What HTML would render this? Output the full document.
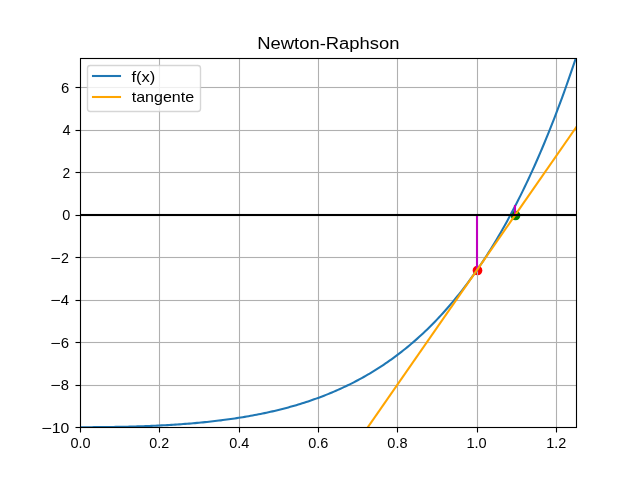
<!DOCTYPE html>
<html lang="es">
<head>
<meta charset="utf-8">
<title>Newton-Raphson</title>
<style>
html,body{margin:0;padding:0;background:#fff}
body{position:relative;width:640px;height:480px;overflow:hidden;font-family:"Liberation Sans",sans-serif;color:#000}
#fig{position:absolute;left:0;top:0;width:640px;height:480px;display:block}
#txt{position:absolute;left:0;top:0;width:640px;height:480px;will-change:transform;transform:translateZ(0)}
.t{position:absolute;left:0;margin:0;padding:0;white-space:nowrap;line-height:1;transform-origin:0 0;font-weight:400}
</style>
</head>
<body>
<svg id="fig" width="640" height="480" viewBox="0 0 640 480">
<defs><clipPath id="ax"><rect x="80" y="58" width="496" height="369.2"/></clipPath></defs>
<rect width="640" height="480" fill="#fff"/>
<circle cx="477.5" cy="270.5" r="4.86" fill="#ff0000"/>
<circle cx="515.5" cy="215.5" r="4.86" fill="#008000"/>
<g stroke="#b0b0b0" stroke-width="1.111" fill="none">
<path d="M159.5 58V427.5"/><path d="M239.5 58V427.5"/><path d="M318.5 58V427.5"/><path d="M397.5 58V427.5"/><path d="M477.5 58V427.5"/><path d="M556.5 58V427.5"/>
<rect x="80" y="86.945" width="496.5" height="1.111" fill="#b0b0b0" stroke="none"/><rect x="80" y="129.945" width="496.5" height="1.111" fill="#b0b0b0" stroke="none"/><rect x="80" y="171.945" width="496.5" height="1.111" fill="#b0b0b0" stroke="none"/><rect x="80" y="214.945" width="496.5" height="1.111" fill="#b0b0b0" stroke="none"/><rect x="80" y="256.945" width="496.5" height="1.111" fill="#b0b0b0" stroke="none"/><rect x="80" y="299.945" width="496.5" height="1.111" fill="#b0b0b0" stroke="none"/><rect x="80" y="341.945" width="496.5" height="1.111" fill="#b0b0b0" stroke="none"/><rect x="80" y="384.945" width="496.5" height="1.111" fill="#b0b0b0" stroke="none"/>
</g>
<g stroke="#000" stroke-width="1.111" fill="none">
<path d="M80.5 427V432.5"/><path d="M159.5 427V432.5"/><path d="M239.5 427V432.5"/><path d="M318.5 427V432.5"/><path d="M397.5 427V432.5"/><path d="M477.5 427V432.5"/><path d="M556.5 427V432.5"/>
<rect x="75.5" y="86.945" width="5.5" height="1.111" fill="#000" stroke="none"/><rect x="75.5" y="129.945" width="5.5" height="1.111" fill="#000" stroke="none"/><rect x="75.5" y="171.945" width="5.5" height="1.111" fill="#000" stroke="none"/><rect x="75.5" y="214.945" width="5.5" height="1.111" fill="#000" stroke="none"/><rect x="75.5" y="256.945" width="5.5" height="1.111" fill="#000" stroke="none"/><rect x="75.5" y="299.945" width="5.5" height="1.111" fill="#000" stroke="none"/><rect x="75.5" y="341.945" width="5.5" height="1.111" fill="#000" stroke="none"/><rect x="75.5" y="384.945" width="5.5" height="1.111" fill="#000" stroke="none"/><rect x="75.5" y="426.945" width="5.5" height="1.111" fill="#000" stroke="none"/>
</g>
<g clip-path="url(#ax)" fill="none" stroke-width="2.083" stroke-linecap="square" stroke-linejoin="round">
<path stroke="#1f77b4" d="M80.00 427.20 L81.98 427.20 L83.97 427.20 L85.95 427.19 L87.94 427.19 L89.92 427.18 L91.90 427.17 L93.89 427.16 L95.87 427.15 L97.86 427.13 L99.84 427.12 L101.82 427.10 L103.81 427.08 L105.79 427.06 L107.78 427.03 L109.76 427.01 L111.74 426.98 L113.73 426.95 L115.71 426.91 L117.70 426.88 L119.68 426.84 L121.66 426.80 L123.65 426.76 L125.63 426.72 L127.62 426.67 L129.60 426.62 L131.58 426.56 L133.57 426.51 L135.55 426.45 L137.54 426.39 L139.52 426.33 L141.50 426.26 L143.49 426.19 L145.47 426.12 L147.46 426.04 L149.44 425.96 L151.42 425.88 L153.41 425.79 L155.39 425.70 L157.38 425.61 L159.36 425.51 L161.34 425.41 L163.33 425.31 L165.31 425.20 L167.30 425.09 L169.28 424.98 L171.26 424.86 L173.25 424.73 L175.23 424.61 L177.22 424.48 L179.20 424.34 L181.18 424.20 L183.17 424.06 L185.15 423.91 L187.14 423.75 L189.12 423.59 L191.10 423.43 L193.09 423.26 L195.07 423.09 L197.06 422.91 L199.04 422.73 L201.02 422.54 L203.01 422.35 L204.99 422.15 L206.98 421.94 L208.96 421.73 L210.94 421.52 L212.93 421.29 L214.91 421.07 L216.90 420.83 L218.88 420.59 L220.86 420.35 L222.85 420.09 L224.83 419.84 L226.82 419.57 L228.80 419.30 L230.78 419.02 L232.77 418.73 L234.75 418.44 L236.74 418.14 L238.72 417.83 L240.70 417.52 L242.69 417.19 L244.67 416.86 L246.66 416.53 L248.64 416.18 L250.62 415.83 L252.61 415.46 L254.59 415.09 L256.58 414.72 L258.56 414.33 L260.54 413.93 L262.53 413.53 L264.51 413.11 L266.50 412.69 L268.48 412.26 L270.46 411.81 L272.45 411.36 L274.43 410.90 L276.42 410.43 L278.40 409.95 L280.38 409.46 L282.37 408.95 L284.35 408.44 L286.34 407.92 L288.32 407.38 L290.30 406.84 L292.29 406.28 L294.27 405.71 L296.26 405.13 L298.24 404.54 L300.22 403.93 L302.21 403.32 L304.19 402.69 L306.18 402.05 L308.16 401.39 L310.14 400.73 L312.13 400.05 L314.11 399.35 L316.10 398.64 L318.08 397.92 L320.06 397.19 L322.05 396.44 L324.03 395.67 L326.02 394.89 L328.00 394.10 L329.98 393.29 L331.97 392.47 L333.95 391.63 L335.94 390.77 L337.92 389.90 L339.90 389.01 L341.89 388.11 L343.87 387.18 L345.86 386.25 L347.84 385.29 L349.82 384.31 L351.81 383.32 L353.79 382.31 L355.78 381.28 L357.76 380.24 L359.74 379.17 L361.73 378.09 L363.71 376.98 L365.70 375.86 L367.68 374.71 L369.66 373.55 L371.65 372.36 L373.63 371.15 L375.62 369.92 L377.60 368.67 L379.58 367.40 L381.57 366.11 L383.55 364.79 L385.54 363.45 L387.52 362.09 L389.50 360.70 L391.49 359.29 L393.47 357.86 L395.46 356.40 L397.44 354.91 L399.42 353.40 L401.41 351.86 L403.39 350.30 L405.38 348.71 L407.36 347.10 L409.34 345.46 L411.33 343.79 L413.31 342.09 L415.30 340.36 L417.28 338.61 L419.26 336.82 L421.25 335.01 L423.23 333.16 L425.22 331.29 L427.20 329.38 L429.18 327.45 L431.17 325.48 L433.15 323.48 L435.14 321.44 L437.12 319.38 L439.10 317.28 L441.09 315.14 L443.07 312.97 L445.06 310.77 L447.04 308.53 L449.02 306.25 L451.01 303.94 L452.99 301.59 L454.98 299.20 L456.96 296.78 L458.94 294.32 L460.93 291.81 L462.91 289.27 L464.90 286.69 L466.88 284.07 L468.86 281.40 L470.85 278.70 L472.83 275.95 L474.82 273.15 L476.80 270.32 L478.78 267.44 L480.77 264.52 L482.75 261.55 L484.74 258.53 L486.72 255.47 L488.70 252.36 L490.69 249.20 L492.67 245.99 L494.66 242.74 L496.64 239.43 L498.62 236.08 L500.61 232.67 L502.59 229.21 L504.58 225.70 L506.56 222.14 L508.54 218.52 L510.53 214.84 L512.51 211.11 L514.50 207.33 L516.48 203.49 L518.46 199.59 L520.45 195.63 L522.43 191.61 L524.42 187.53 L526.40 183.39 L528.38 179.19 L530.37 174.93 L532.35 170.60 L534.34 166.21 L536.32 161.76 L538.30 157.24 L540.29 152.65 L542.27 147.99 L544.26 143.27 L546.24 138.47 L548.22 133.61 L550.21 128.68 L552.19 123.67 L554.18 118.59 L556.16 113.43 L558.14 108.20 L560.13 102.90 L562.11 97.52 L564.10 92.06 L566.08 86.52 L568.06 80.90 L570.05 75.20 L572.03 69.42 L574.02 63.55 L576.00 57.60"/>
<path stroke="#bf00bf" stroke-linecap="butt" d="M477 214V271.4"/>
<path stroke="#bf00bf" stroke-linecap="butt" d="M515 205V216"/>
<path stroke="#ffa500" d="M357.76 441.76 L579.97 121.74"/>
<rect x="70" y="213.958" width="520" height="2.083" fill="#000" stroke="none"/>
</g>
<rect x="80.5" y="58.5" width="496" height="369" fill="none" stroke="#000" stroke-width="1.111"/>
<rect x="87.5" y="65.5" width="113" height="46" rx="2.8" ry="2.8" fill="#fff" fill-opacity="0.8" stroke="#ccc" stroke-opacity="0.8" stroke-width="1.389"/>
<path d="M93 76H120" stroke="#1f77b4" stroke-width="2.083" stroke-linecap="square"/>
<path d="M93 97H120" stroke="#ffa500" stroke-width="2.083" stroke-linecap="square"/>
</svg>
<div id="txt">
<div class="t" id="title" style="top:35px;font-size:17.30px;transform:translate(257.15px,0) scaleX(1.0668)">Newton-Raphson</div>
<div class="t" id="x0" style="top:436px;font-size:14.10px;transform:translate(70.43px,0) scaleX(1.0301)">0.0</div>
<div class="t" id="x1" style="top:436px;font-size:14.10px;transform:translate(149.29px,0) scaleX(1.0129)">0.2</div>
<div class="t" id="x2" style="top:436px;font-size:14.10px;transform:translate(229.22px,0) scaleX(1.0238)">0.4</div>
<div class="t" id="x3" style="top:436px;font-size:14.10px;transform:translate(308.27px,0) scaleX(1.0268)">0.6</div>
<div class="t" id="x4" style="top:436px;font-size:14.10px;transform:translate(387.36px,0) scaleX(1.0312)">0.8</div>
<div class="t" id="x5" style="top:436px;font-size:14.10px;transform:translate(466.40px,0) scaleX(1.0340)">1.0</div>
<div class="t" id="x6" style="top:436px;font-size:14.10px;transform:translate(546.31px,0) scaleX(1.0238)">1.2</div>
<div id="y0"><span class="t" id="y0m" style="top:421px;font-size:14.10px;transform:translate(41.24px,0) scaleX(1.2692)">−</span><span class="t" id="y0d" style="top:421px;font-size:14.10px;transform:translate(51.63px,0) scaleX(1.1202)">10</span></div>
<div id="y1"><span class="t" id="y1m" style="top:378px;font-size:14.10px;transform:translate(50.29px,0) scaleX(1.2496)">−</span><span class="t" id="y1d" style="top:378px;font-size:14.10px;transform:translate(60.87px,0) scaleX(1.0479)">8</span></div>
<div id="y2"><span class="t" id="y2m" style="top:336px;font-size:14.10px;transform:translate(50.29px,0) scaleX(1.2496)">−</span><span class="t" id="y2d" style="top:336px;font-size:14.10px;transform:translate(60.77px,0) scaleX(1.0618)">6</span></div>
<div id="y3"><span class="t" id="y3m" style="top:293px;font-size:14.10px;transform:translate(50.29px,0) scaleX(1.2496)">−</span><span class="t" id="y3d" style="top:293px;font-size:14.10px;transform:translate(60.71px,0) scaleX(1.0582)">4</span></div>
<div id="y4"><span class="t" id="y4m" style="top:251px;font-size:14.10px;transform:translate(50.29px,0) scaleX(1.2496)">−</span><span class="t" id="y4d" style="top:251px;font-size:14.10px;transform:translate(60.96px,0) scaleX(1.0149)">2</span></div>
<div class="t" id="y5" style="top:208px;font-size:14.10px;transform:translate(62.36px,0) scaleX(1.0252)">0</div>
<div class="t" id="y6" style="top:166px;font-size:14.10px;transform:translate(62.46px,0) scaleX(0.9799)">2</div>
<div class="t" id="y7" style="top:123px;font-size:14.10px;transform:translate(62.46px,0) scaleX(1.0354)">4</div>
<div class="t" id="y8" style="top:81px;font-size:14.10px;transform:translate(61.11px,0) scaleX(1.0532)">6</div>
<div class="t" id="l0" style="top:70px;font-size:14.30px;transform:translate(131.41px,0) scaleX(1.1583)">f(x)</div>
<div class="t" id="l1" style="top:90px;font-size:14.30px;transform:translate(131.72px,0) scaleX(1.1217)">tangente</div>
</div>
</body>
</html>
